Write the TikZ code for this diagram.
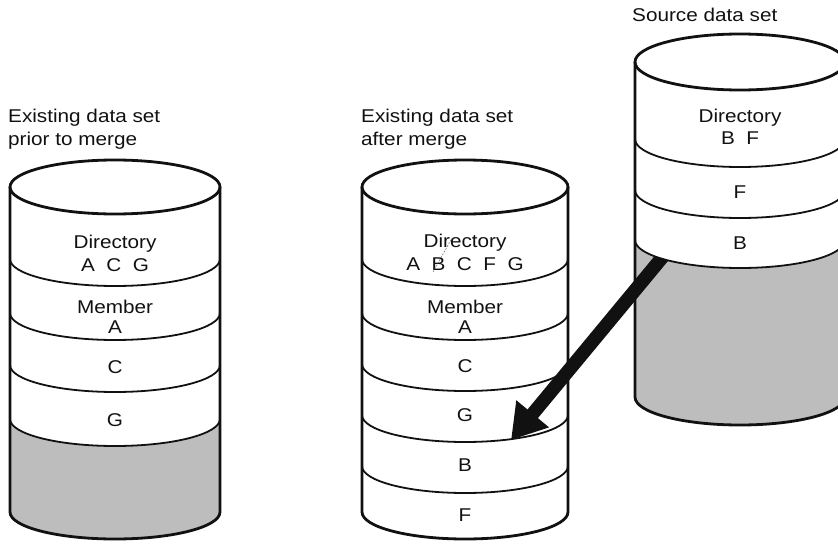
\documentclass[tikz,border=0pt]{standalone}
\usepackage{fontspec}
\setmainfont{Liberation Sans}[FakeStretch=1.12]
\usetikzlibrary{arrows.meta}
\definecolor{cInk}{HTML}{111111}
\definecolor{cStip}{HTML}{BDBDBD}

\begin{document}
\begin{tikzpicture}[
  x=1pt, y=-1pt,
  font=\fontsize{18.5}{23}\selectfont,
  wall/.style={draw=cInk, line width=2.8pt},
  sep/.style={draw=cInk, line width=1.8pt},
  stip/.style={fill=cStip},
  lbl/.style={inner sep=0pt, text=cInk},
  title/.style={inner sep=0pt, align=left, anchor=north west, text=cInk},
  move/.style={draw=cInk, line width=13.5pt, -{Triangle[length=34pt, width=40pt]}},
]
\useasboundingbox (0,0) rectangle (838,546);

% left cylinder : existing data set before the merge
\fill[stip] (10,419) arc[start angle=180, end angle=0, x radius=105, y radius=27]
  -- (220,512) arc[start angle=0, end angle=180, x radius=105, y radius=27] -- cycle;
\foreach \s in {286,340,392,446}
  \draw[sep] (10,\s-27) arc[start angle=180, end angle=0, x radius=105, y radius=27];
\draw[wall] (115,187) ellipse[x radius=105, y radius=27];
\draw[wall] (10,187) -- (10,512) arc[start angle=180, end angle=0, x radius=105, y radius=27] -- (220,187);

\node[title] (capL) at (8,109) {Existing data set\\prior to merge};
\node[lbl] (dirL)  at (115,244) {Directory};
\node[lbl] (dirLm) at (115,265) {A\ \ C\ \ G};
\node[lbl] (memL)  at (115,307) {Member};
\node[lbl] (memLa) at (115,327) {A};
\node[lbl] (memLc) at (115,367) {C};
\node[lbl] (memLg) at (115,420) {G};

% middle cylinder : existing data set after the merge
\foreach \s in {286,340,391,442,493}
  \draw[sep] (362,\s-27) arc[start angle=180, end angle=0, x radius=103, y radius=27];
\draw[wall] (465,187) ellipse[x radius=103, y radius=27];
\draw[wall] (362,187) -- (362,512) arc[start angle=180, end angle=0, x radius=103, y radius=27] -- (568,187);

\node[title] (capM) at (361,109) {Existing data set\\after merge};
\node[lbl] (dirM)  at (465,243) {Directory};
\node[lbl] (dirMm) at (465,264) {A\ \ B\ \ C\ \ F\ \ G};
\node[lbl] (memM)  at (465,307) {Member};
\node[lbl] (memMa) at (465,327) {A};
\node[lbl] (memMc) at (465,366) {C};
\node[lbl] (memMg) at (465,415) {G};
\node[lbl] (memMb) at (465,465) {B};
\node[lbl] (memMf) at (465,515) {F};
\draw[cInk!70, line width=0.4pt, dash pattern=on 2pt off 1.2pt] (433,272) -- (452,238);

% right cylinder : source data set
\fill[stip] (635,240) arc[start angle=180, end angle=0, x radius=105, y radius=28]
  -- (845,397) arc[start angle=0, end angle=180, x radius=105, y radius=28] -- cycle;
\foreach \s in {167,218,268}
  \draw[sep] (635,\s-28) arc[start angle=180, end angle=0, x radius=105, y radius=28];
\draw[wall] (740,62) ellipse[x radius=105, y radius=28];
\draw[wall] (635,62) -- (635,397) arc[start angle=180, end angle=0, x radius=105, y radius=28] -- (845,62);

\node[title] (capR) at (632,8) {Source data set};
\node[lbl] (dirR)  at (740,118) {Directory};
\node[lbl] (dirRm) at (740,138) {B\ \ F};
\node[lbl] (memRf) at (740,192) {F};
\node[lbl] (memRb) at (740,243) {B};

% member B copied across, tail hidden under the B band
\coordinate (fromB) at (670,248);
\coordinate (intoB) at (511,440);
\begin{scope}
  \clip (0,0) -- (635,0) -- (635,240) arc[start angle=180, end angle=90, x radius=105, y radius=28]
    -- (740,546) -- (0,546) -- cycle;
  \draw[move] (fromB) -- (intoB);
\end{scope}

\end{tikzpicture}
\end{document}
